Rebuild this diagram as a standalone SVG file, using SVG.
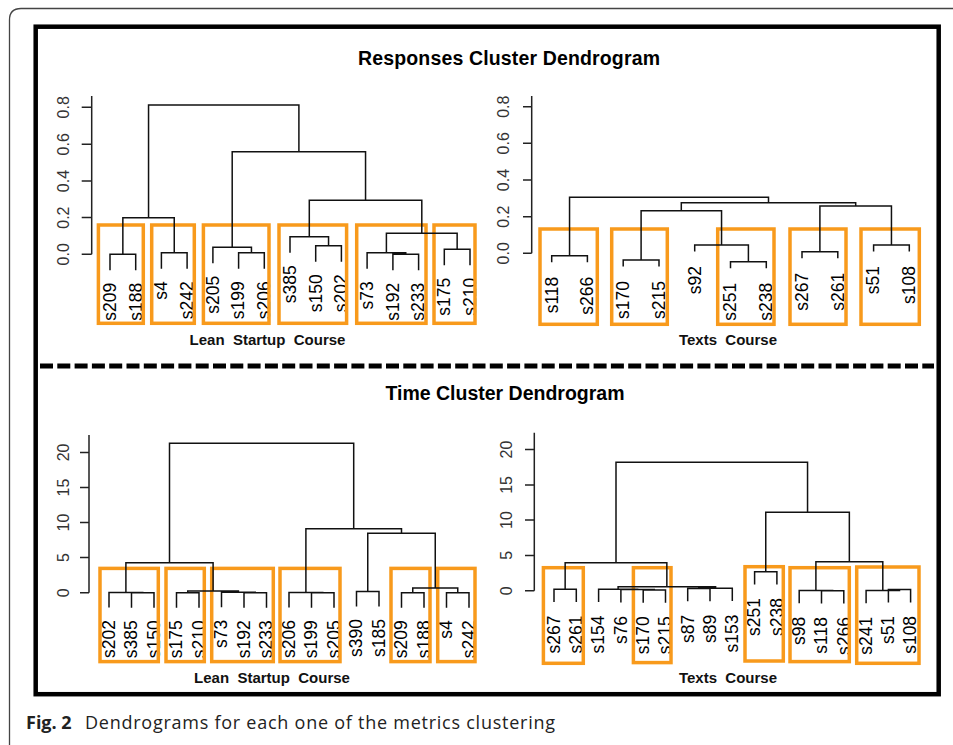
<svg xmlns="http://www.w3.org/2000/svg" width="953" height="745" viewBox="0 0 953 745">
<style>
.ln{fill:none;stroke:#111;stroke-width:1.5}
.ax{fill:none;stroke:#222;stroke-width:1.5}
.bx{fill:none;stroke:#F89A1C;stroke-width:3.5}
.lf{font-family:"Liberation Sans",Arial,sans-serif;font-size:17.5px;text-anchor:end;fill:#000}
.tk{font-family:"Liberation Sans",Arial,sans-serif;font-size:16px;text-anchor:middle;fill:#333}
.xl{font-family:"Liberation Sans",Arial,sans-serif;font-size:15px;font-weight:bold;text-anchor:middle;fill:#111}
.tt{font-family:"Liberation Sans",Arial,sans-serif;font-size:19.5px;font-weight:bold;text-anchor:middle;fill:#000}
</style>
<rect width="953" height="745" fill="#fff"/>
<path d="M9.5 745 V20 Q9.5 8.5 21 8.5 H953" fill="none" stroke="#444" stroke-width="1.3"/>
<rect x="35.7" y="26.7" width="903" height="667.5" fill="none" stroke="#000" stroke-width="4.5"/>
<line x1="40" y1="366" x2="934" y2="366" stroke="#000" stroke-width="5" stroke-dasharray="13 4.3"/>
<text class="tt" x="509" y="65" textLength="302">Responses Cluster Dendrogram</text>
<text class="tt" x="505" y="400">Time Cluster Dendrogram</text>

<g id="panel-responses-lean">
<path class="ax" d="M91.7 96 V254.3 M81.7 254.3 H91.7 M81.7 217.6 H91.7 M81.7 181 H91.7 M81.7 144.3 H91.7 M81.7 107.3 H91.7"/>
<g class="tk">
<text transform="translate(68.5,254.3) rotate(-90)">0.0</text>
<text transform="translate(68.5,217.6) rotate(-90)">0.2</text>
<text transform="translate(68.5,181) rotate(-90)">0.4</text>
<text transform="translate(68.5,144.3) rotate(-90)">0.6</text>
<text transform="translate(68.5,107.3) rotate(-90)">0.8</text>
</g>
<g class="lf">
<text transform="translate(115.8,282.8) rotate(-90)">s209</text>
<text transform="translate(141.5,282.8) rotate(-90)">s188</text>
<text transform="translate(167.2,281.2) rotate(-90)">s4</text>
<text transform="translate(192.9,281.2) rotate(-90)">s242</text>
<text transform="translate(218.7,275.8) rotate(-90)">s205</text>
<text transform="translate(244.4,281.2) rotate(-90)">s199</text>
<text transform="translate(270.1,281.2) rotate(-90)">s206</text>
<text transform="translate(295.8,265.2) rotate(-90)">s385</text>
<text transform="translate(321.5,274.2) rotate(-90)">s150</text>
<text transform="translate(347.2,274.2) rotate(-90)">s202</text>
<text transform="translate(372.9,281.2) rotate(-90)">s73</text>
<text transform="translate(398.7,282.8) rotate(-90)">s192</text>
<text transform="translate(424.4,282.8) rotate(-90)">s233</text>
<text transform="translate(450.1,277.8) rotate(-90)">s175</text>
<text transform="translate(475.8,277.8) rotate(-90)">s210</text>
</g>
<text class="xl" x="267.5" y="345" xml:space="preserve">Lean  Startup  Course</text>
<g class="bx">
<rect x="98.4" y="225" width="44.9" height="98.3"/>
<rect x="151.7" y="225" width="42.6" height="98.3"/>
<rect x="203.4" y="225" width="65.6" height="98.3"/>
<rect x="279" y="225" width="67.6" height="98.3"/>
<rect x="356.7" y="225" width="69.3" height="98.3"/>
<rect x="434" y="225" width="41" height="98.3"/>
</g>
</g>

<g id="panel-responses-texts">
<path class="ax" d="M531.7 96 V253.3 M523 253.3 H531.7 M523 216.7 H531.7 M523 180 H531.7 M523 143.3 H531.7 M523 106.7 H531.7"/>
<g class="tk">
<text transform="translate(508.5,253.3) rotate(-90)">0.0</text>
<text transform="translate(508.5,216.7) rotate(-90)">0.2</text>
<text transform="translate(508.5,180) rotate(-90)">0.4</text>
<text transform="translate(508.5,143.3) rotate(-90)">0.6</text>
<text transform="translate(508.5,106.7) rotate(-90)">0.8</text>
</g>
<g class="lf">
<text transform="translate(557.5,276.7) rotate(-90)">s118</text>
<text transform="translate(593.2,276.7) rotate(-90)">s266</text>
<text transform="translate(629,281) rotate(-90)">s170</text>
<text transform="translate(664.8,281) rotate(-90)">s215</text>
<text transform="translate(700.5,266) rotate(-90)">s92</text>
<text transform="translate(736.3,282.7) rotate(-90)">s251</text>
<text transform="translate(772.1,282.7) rotate(-90)">s238</text>
<text transform="translate(807.8,272.7) rotate(-90)">s267</text>
<text transform="translate(843.6,272.7) rotate(-90)">s261</text>
<text transform="translate(879.4,266) rotate(-90)">s51</text>
<text transform="translate(915.1,266) rotate(-90)">s108</text>
</g>
<text class="xl" x="728" y="345" xml:space="preserve">Texts  Course</text>
<g class="bx">
<rect x="540" y="229" width="57.3" height="95.3"/>
<rect x="611.7" y="229" width="55.6" height="95.3"/>
<rect x="717.7" y="229" width="56.3" height="95.3"/>
<rect x="790" y="229" width="56" height="95.3"/>
<rect x="861" y="229" width="58.3" height="95.3"/>
</g>
</g>

<g id="panel-time-lean">
<path class="ax" d="M89 435 V592.7 M80 592.7 H89 M80 557.6 H89 M80 522.6 H89 M80 487.5 H89 M80 452.4 H89"/>
<g class="tk">
<text transform="translate(68.5,592.7) rotate(-90)">0</text>
<text transform="translate(68.5,557.6) rotate(-90)">5</text>
<text transform="translate(68.5,522.6) rotate(-90)">10</text>
<text transform="translate(68.5,487.5) rotate(-90)">15</text>
<text transform="translate(68.5,452.4) rotate(-90)">20</text>
</g>
<g class="lf">
<text transform="translate(114.8,620) rotate(-90)">s202</text>
<text transform="translate(137.3,620.2) rotate(-90)">s385</text>
<text transform="translate(159.8,620.2) rotate(-90)">s150</text>
<text transform="translate(182.3,620.2) rotate(-90)">s175</text>
<text transform="translate(204.8,620.2) rotate(-90)">s210</text>
<text transform="translate(227.3,619.8) rotate(-90)">s73</text>
<text transform="translate(249.8,620.2) rotate(-90)">s192</text>
<text transform="translate(272.3,620.2) rotate(-90)">s233</text>
<text transform="translate(294.8,620) rotate(-90)">s206</text>
<text transform="translate(317.3,620.2) rotate(-90)">s199</text>
<text transform="translate(339.8,620.2) rotate(-90)">s205</text>
<text transform="translate(362.3,619) rotate(-90)">s390</text>
<text transform="translate(384.8,619) rotate(-90)">s185</text>
<text transform="translate(407.3,620.2) rotate(-90)">s209</text>
<text transform="translate(429.8,620.2) rotate(-90)">s188</text>
<text transform="translate(452.3,620.2) rotate(-90)">s4</text>
<text transform="translate(474.8,620.2) rotate(-90)">s242</text>
</g>
<text class="xl" x="272" y="683" xml:space="preserve">Lean  Startup  Course</text>
<g class="bx">
<rect x="100" y="568.4" width="58.3" height="93.2"/>
<rect x="166" y="568.4" width="38.3" height="93.2"/>
<rect x="211.7" y="568.4" width="61.6" height="93.2"/>
<rect x="280" y="568.4" width="60" height="93.2"/>
<rect x="391" y="568.4" width="39" height="93.2"/>
<rect x="437.7" y="568.4" width="37.3" height="93.2"/>
</g>
</g>

<g id="panel-time-texts">
<path class="ax" d="M534.3 432.7 V590.7 M525 590.7 H534.3 M525 555.4 H534.3 M525 520.1 H534.3 M525 484.9 H534.3 M525 449.6 H534.3"/>
<g class="tk">
<text transform="translate(512,590.7) rotate(-90)">0</text>
<text transform="translate(512,555.4) rotate(-90)">5</text>
<text transform="translate(512,520.1) rotate(-90)">10</text>
<text transform="translate(512,484.9) rotate(-90)">15</text>
<text transform="translate(512,449.6) rotate(-90)">20</text>
</g>
<g class="lf">
<text transform="translate(559.8,615.6) rotate(-90)">s267</text>
<text transform="translate(582.1,615.6) rotate(-90)">s261</text>
<text transform="translate(604.4,615.6) rotate(-90)">s154</text>
<text transform="translate(626.7,615.9) rotate(-90)">s76</text>
<text transform="translate(649,616.3) rotate(-90)">s170</text>
<text transform="translate(671.3,616.3) rotate(-90)">s215</text>
<text transform="translate(693.5,614.8) rotate(-90)">s87</text>
<text transform="translate(715.8,614.8) rotate(-90)">s89</text>
<text transform="translate(738.1,614.5) rotate(-90)">s153</text>
<text transform="translate(760.4,598) rotate(-90)">s251</text>
<text transform="translate(782.7,598) rotate(-90)">s238</text>
<text transform="translate(805,616.8) rotate(-90)">s98</text>
<text transform="translate(827.3,617) rotate(-90)">s118</text>
<text transform="translate(849.6,617) rotate(-90)">s266</text>
<text transform="translate(871.9,616.8) rotate(-90)">s241</text>
<text transform="translate(894.2,615.9) rotate(-90)">s51</text>
<text transform="translate(916.4,615.9) rotate(-90)">s108</text>
</g>
<text class="xl" x="728" y="683" xml:space="preserve">Texts  Course</text>
<g class="bx">
<rect x="543.4" y="567.7" width="39.9" height="95.6"/>
<rect x="633.4" y="567.7" width="37.6" height="94.9"/>
<rect x="745" y="566.7" width="38.3" height="94.3"/>
<rect x="790" y="567.7" width="59.3" height="93.9"/>
<rect x="856.7" y="567" width="62.3" height="96.3"/>
</g>
</g>

<g id="connectors">
<path class="ln" d="M110 270.3V254.3H135.7V270.3 M161.4 268.7V252.7H187.1V268.7 M122.85 254.3V217.7H174.25V252.7 M238.6 268.7V252.7H264.3V268.7 M212.9 263.3V247.3H251.45V252.7 M315.7 261.7V245.7H341.4V261.7 M290 252.7V236.7H328.55V245.7 M392.9 270.3V254.3H418.6V270.3 M367.1 268.7V252.7H405.75V254.3 M444.3 265.3V249.3H470V265.3 M386.4 252.7V233.3H457.15V249.3 M309.3 236.7V200.3H421.8V233.3 M232.2 247.3V151.7H365.55V200.3 M148.55 217.7V105H298.9V151.7"/>
<path class="ln" d="M551.7 262.2V255.7H587.4V262.2 M623.2 266.5V260H659V266.5 M730.5 268.2V261.7H766.3V268.2 M694.7 251.5V245H748.4V261.7 M641.1 260V210.7H721.55V245 M802 258.2V251.7H837.8V258.2 M873.6 251.5V245H909.3V251.5 M819.9 251.7V206H891.45V245 M681.3 210.7V202.7H855.7V206 M569.55 255.7V197.3H768.5V202.7"/>
<path class="ln" d="M131.5 607.7V592.7H154V607.7 M109 607.5V592.5H142.75V592.7 M176.5 607.7V592.7H199V607.7 M244 607.7V592.7H266.5V607.7 M221.5 607.3V592.3H255.25V592.7 M187.75 592.7V591H238.4V592.3 M125.9 592.5V562.7H213.1V591 M311.5 607.7V592.7H334V607.7 M289 607.5V592.5H322.75V592.7 M356.5 606.5V591.5H379V606.5 M401.5 607.7V592.7H424V607.7 M446.5 607.7V592.7H469V607.7 M412.75 592.7V588H457.75V592.7 M367.75 591.5V533.3H435.25V588 M305.9 592.5V528.7H401.5V533.3 M169.5 562.7V443.3H353.7V528.7"/>
<path class="ln" d="M554 602.1V589.3H576.3V602.1 M643.2 602.8V590H665.5V602.8 M620.9 602.4V589.6H654.35V590 M598.6 602.1V589.3H637.6V589.6 M687.7 601.3V588.5H710V601.3 M698.85 588.5V588.2H732.3V601 M618.1 589.3V586.7H715.6V588.2 M565.15 589.3V562.7H666.85V586.7 M754.6 584.5V571.7H776.9V584.5 M821.5 603.5V590.7H843.8V603.5 M799.2 603.3V590.5H832.65V590.7 M888.4 602.4V589.6H910.6V602.4 M866.1 603.3V590.5H899.5V589.6 M815.9 590.5V561.7H882.8V590.5 M765.75 571.7V512.3H849.35V561.7 M616 562.7V462.3H807.55V512.3"/>
</g>

<text x="26" y="729" font-family="'Open Sans','Noto Sans',sans-serif" font-size="18" fill="#222"><tspan font-weight="bold">Fig. 2</tspan><tspan x="85" textLength="470">Dendrograms for each one of the metrics clustering</tspan></text>
</svg>
